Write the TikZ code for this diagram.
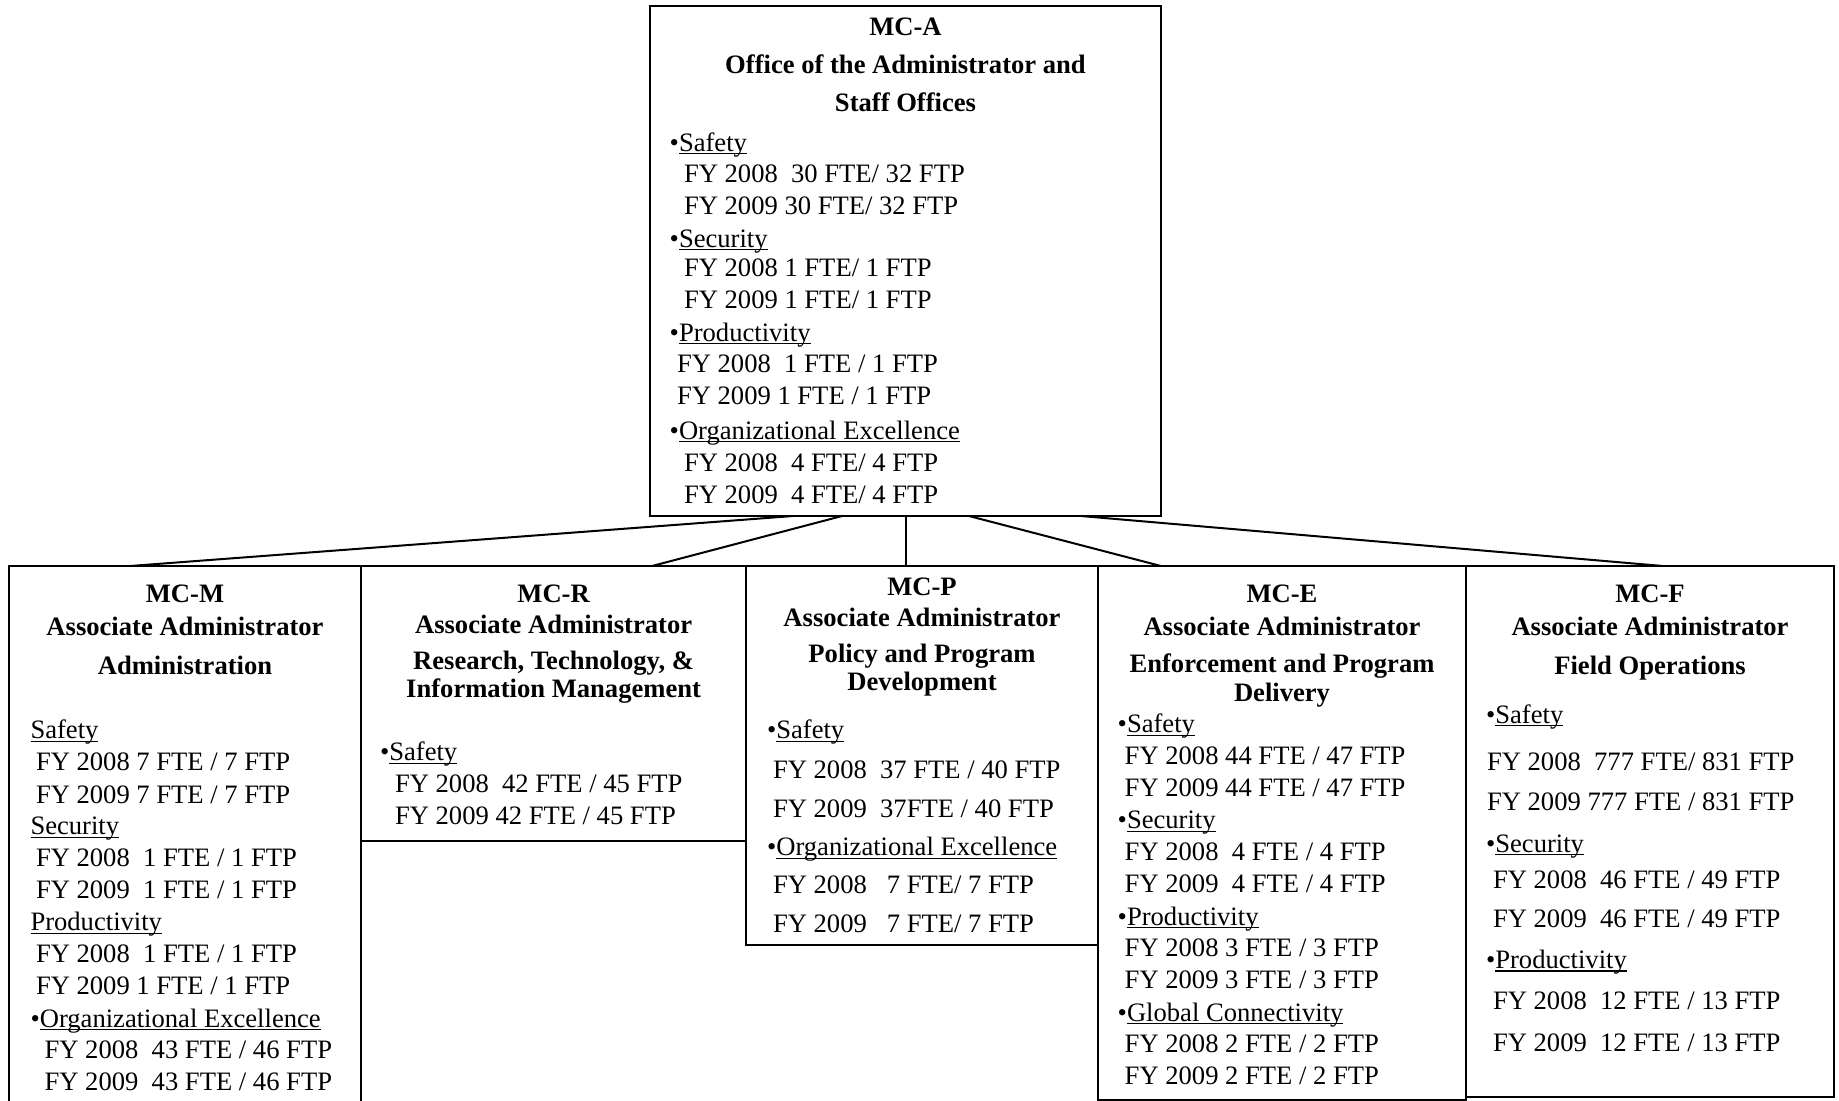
\documentclass[tikz,border=0pt]{standalone}
\usepackage{fontspec}
\setmainfont{Liberation Serif}
\newcommand\ulw[1]{\setbox0\hbox{#1}\rlap{\rule[-1.6pt]{\wd0}{0.6pt}}\box0}
\newcommand\tlin[4]{\node[txt] (#1) at (#2,#3) {#4};}
\newcommand\ttlat[4]{\node[ttl] (#1) at (#2,#3) {#4};}
\newcommand\bxat[5]{\node[box, minimum width={(#4-#2)*0.5pt}, minimum height={(#5-#3)*0.5pt}] (#1) at (#2,#3) {};}
\begin{document}
\begin{tikzpicture}[x=0.5pt,y=-0.5pt,
  every node/.style={inner sep=0pt, outer sep=0pt, font=\fontsize{13.3pt}{16pt}\selectfont},
  txt/.style={anchor=base west},
  ttl/.style={anchor=base, font=\fontsize{13.3pt}{16pt}\selectfont\bfseries},
  box/.style={draw, line width=1pt, anchor=north west},
  conn/.style={line width=1pt}]
\useasboundingbox (0,0) rectangle (1839,1100);
\clip (0,0) rectangle (1839,1100);

% boxes
\bxat{mca}{650}{6}{1161}{516}
\bxat{mcm}{9}{566}{361}{1115}
\bxat{mcr}{361}{566}{746}{841}
\bxat{mcp}{746}{566}{1098}{945}
\bxat{mce}{1098}{566}{1466}{1100}
\bxat{mcf}{1466}{566}{1834}{1097}

% connector end points
\path (mca.south west) ++(143,0) coordinate (aM);
\path (mca.south west) ++(192,0) coordinate (aR);
\path (mca.south west) ++(256,0) coordinate (aP);
\path (mca.south west) ++(319,0) coordinate (aE);
\path (mca.south west) ++(431,0) coordinate (aF);
\path (mcm.north west) ++(121,0) coordinate (bM);
\path (mcr.north west) ++(291,0) coordinate (bR);
\path (mcp.north west) ++(160,0) coordinate (bP);
\path (mce.north west) ++(63,0) coordinate (bE);
\path (mcf.north west) ++(197,0) coordinate (bF);
\draw[conn] (aM) -- (bM);
\draw[conn] (aR) -- (bR);
\draw[conn] (aP) -- (bP);
\draw[conn] (aE) -- (bE);
\draw[conn] (aF) -- (bF);

% MC-A
\ttlat{a0}{905.5}{35}{MC-A}
\ttlat{a1}{905.5}{73.5}{Office of the Administrator and}
\ttlat{a2}{905.5}{111}{Staff Offices}
\tlin{a3}{669.7}{151}{•\ulw{Safety}}
\tlin{a4}{684}{182.6}{FY 2008~ 30 FTE/ 32 FTP}
\tlin{a5}{684}{214}{FY 2009 30 FTE/ 32 FTP}
\tlin{a6}{669.7}{247}{•\ulw{Security}}
\tlin{a7}{684}{276.4}{FY 2008 1 FTE/ 1 FTP}
\tlin{a8}{684}{308}{FY 2009 1 FTE/ 1 FTP}
\tlin{a9}{669.7}{341}{•\ulw{Productivity}}
\tlin{a10}{677}{372.6}{FY 2008~ 1 FTE / 1 FTP}
\tlin{a11}{677}{404}{FY 2009 1 FTE / 1 FTP}
\tlin{a12}{669.7}{439}{•\ulw{Organizational Excellence}}
\tlin{a13}{684}{471.5}{FY 2008~ 4 FTE/ 4 FTP}
\tlin{a14}{684}{503}{FY 2009~ 4 FTE/ 4 FTP}

% MC-M
\ttlat{m0}{185}{602}{MC-M}
\ttlat{m1}{185}{635}{Associate Administrator}
\ttlat{m2}{185}{674}{Administration}
\tlin{m3}{30.5}{738.5}{\ulw{Safety}}
\tlin{m4}{36}{770}{FY 2008 7 FTE / 7 FTP}
\tlin{m5}{36}{803}{FY 2009 7 FTE / 7 FTP}
\tlin{m6}{30.5}{834.6}{\ulw{Security}}
\tlin{m7}{36}{866.3}{FY 2008~ 1 FTE / 1 FTP}
\tlin{m8}{36}{898}{FY 2009~ 1 FTE / 1 FTP}
\tlin{m9}{30.5}{930.8}{\ulw{Productivity}}
\tlin{m10}{36}{962.5}{FY 2008~ 1 FTE / 1 FTP}
\tlin{m11}{36}{994}{FY 2009 1 FTE / 1 FTP}
\tlin{m12}{30.5}{1027}{•\ulw{Organizational Excellence}}
\tlin{m13}{44.6}{1058.7}{FY 2008~ 43 FTE / 46 FTP}
\tlin{m14}{44.6}{1090}{FY 2009~ 43 FTE / 46 FTP}

% MC-R
\ttlat{r0}{553.6}{602}{MC-R}
\ttlat{r1}{553.6}{633}{Associate Administrator}
\ttlat{r2}{553.6}{669}{Research, Technology, \&}
\ttlat{r3}{553.6}{697.4}{Information Management}
\tlin{r4}{380}{760.8}{•\ulw{Safety}}
\tlin{r5}{395}{792.4}{FY 2008~ 42 FTE / 45 FTP}
\tlin{r6}{395}{824}{FY 2009 42 FTE / 45 FTP}

% MC-P
\ttlat{p0}{922}{595.4}{MC-P}
\ttlat{p1}{922}{626}{Associate Administrator}
\ttlat{p2}{922}{662}{Policy and Program}
\ttlat{p3}{922}{690.4}{Development}
\tlin{p4}{767}{738.5}{•\ulw{Safety}}
\tlin{p5}{773}{778.4}{FY 2008~ 37 FTE / 40 FTP}
\tlin{p6}{773}{817}{FY 2009~ 37FTE / 40 FTP}
\tlin{p7}{767}{855.8}{•\ulw{Organizational Excellence}}
\tlin{p8}{773}{893.3}{FY 2008~~ 7 FTE/ 7 FTP}
\tlin{p9}{773}{932}{FY 2009~~ 7 FTE/ 7 FTP}

% MC-E
\ttlat{e0}{1282}{602}{MC-E}
\ttlat{e1}{1282}{635}{Associate Administrator}
\ttlat{e2}{1282}{672.8}{Enforcement and Program}
\ttlat{e3}{1282}{701}{Delivery}
\tlin{e4}{1117.7}{732.6}{•\ulw{Safety}}
\tlin{e5}{1124.7}{764}{FY 2008 44 FTE / 47 FTP}
\tlin{e6}{1124.7}{796}{FY 2009 44 FTE / 47 FTP}
\tlin{e7}{1117.7}{828.8}{•\ulw{Security}}
\tlin{e8}{1124.7}{860.5}{FY 2008~ 4 FTE / 4 FTP}
\tlin{e9}{1124.7}{892}{FY 2009~ 4 FTE / 4 FTP}
\tlin{e10}{1117.7}{925}{•\ulw{Productivity}}
\tlin{e11}{1124.7}{956.6}{FY 2008 3 FTE / 3 FTP}
\tlin{e12}{1124.7}{988.3}{FY 2009 3 FTE / 3 FTP}
\tlin{e13}{1117.7}{1021}{•\ulw{Global Connectivity}}
\tlin{e14}{1124.7}{1052.8}{FY 2008 2 FTE / 2 FTP}
\tlin{e15}{1124.7}{1084.5}{FY 2009 2 FTE / 2 FTP}

% MC-F
\ttlat{f0}{1650}{602}{MC-F}
\ttlat{f1}{1650}{635}{Associate Administrator}
\ttlat{f2}{1650}{674}{Field Operations}
\tlin{f3}{1486}{723.2}{•\ulw{Safety}}
\tlin{f4}{1487}{770}{FY 2008~ 777 FTE/ 831 FTP}
\tlin{f5}{1487}{810}{FY 2009 777 FTE / 831 FTP}
\tlin{f6}{1486}{852.2}{•\ulw{Security}}
\tlin{f7}{1493}{888.6}{FY 2008~ 46 FTE / 49 FTP}
\tlin{f8}{1493}{927.3}{FY 2009~ 46 FTE / 49 FTP}
\tlin{f9}{1486}{968.3}{•\ulw{Productivity}}
\tlin{f10}{1493}{1009.4}{FY 2008~ 12 FTE / 13 FTP}
\tlin{f11}{1493}{1051.6}{FY 2009~ 12 FTE / 13 FTP}
\end{tikzpicture}
\end{document}
